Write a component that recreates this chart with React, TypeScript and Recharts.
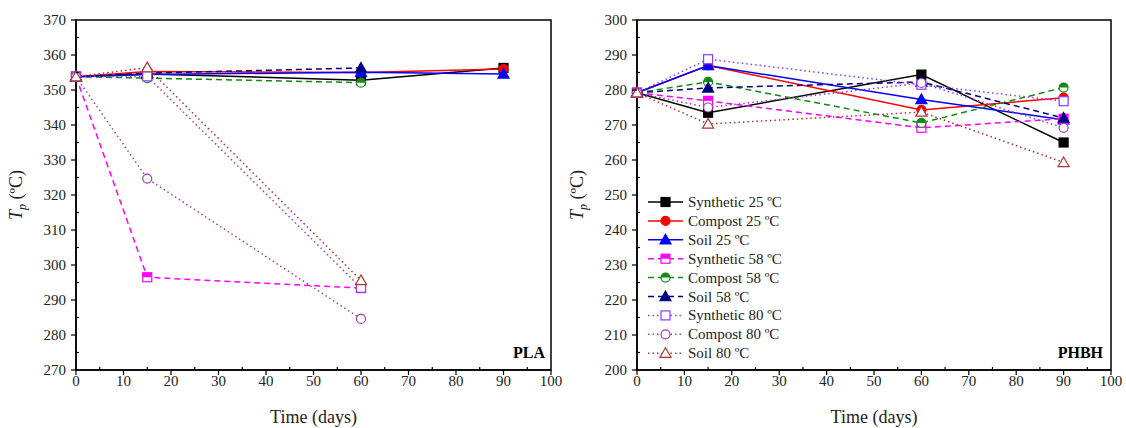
import React from 'react';
import {
  LineChart,
  Line,
  XAxis,
  YAxis,
  ReferenceArea,
  Legend,
  Label
} from 'recharts';

const FONT = '"Liberation Serif", "Times New Roman", serif';

// time points (days)
const DAYS = [0, 15, 60, 90];

// PLA peak temperature (ºC)
const PLA_SYN25 = [353.8, 354.6, 352.8, 356.3];
const PLA_COMP25 = [353.8, 355.3, 355.0, 356.0];
const PLA_SOIL25 = [353.8, 354.4, 355.1, 354.6];
const PLA_SYN58 = [353.8, 296.5, 293.4];
const PLA_COMP58 = [353.8, 353.4, 352.1];
const PLA_SOIL58 = [353.8, 354.8, 356.3];
const PLA_SYN80 = [353.8, 353.9, 293.5];
const PLA_COMP80 = [353.8, 324.7, 284.6];
const PLA_SOIL80 = [353.8, 356.4, 295.6];

// PHBH peak temperature (ºC)
const PHBH_SYN25 = [279.2, 273.5, 284.4, 265.0];
const PHBH_COMP25 = [279.2, 287.0, 274.3, 277.8];
const PHBH_SOIL25 = [279.2, 287.0, 277.3, 271.5];
const PHBH_SYN58 = [279.2, 276.9, 269.2, 271.8];
const PHBH_COMP58 = [279.2, 282.3, 270.6, 280.7];
const PHBH_SOIL58 = [279.2, 280.6, 282.3, 272.0];
const PHBH_SYN80 = [279.2, 288.8, 281.5, 276.8];
const PHBH_COMP80 = [279.2, 275.0, 282.0, 269.2];
const PHBH_SOIL80 = [279.2, 270.3, 273.7, 259.3];

const X_TICKS = [0, 10, 20, 30, 40, 50, 60, 70, 80, 90, 100];
const PLA_Y_TICKS = [270, 280, 290, 300, 310, 320, 330, 340, 350, 360, 370];
const PHBH_Y_TICKS = [200, 210, 220, 230, 240, 250, 260, 270, 280, 290, 300];

const withMinor = (ticks: number[]) => {
  const out: number[] = [];
  ticks.forEach((t, i) => {
    out.push(t);
    if (i < ticks.length - 1) out.push((t + ticks[i + 1]) / 2);
  });
  return out;
};

type Shape = 'square' | 'circle' | 'triangle';
type Fill = 'full' | 'half' | 'none';

const SERIES: { key: string; name: string; color: string; dash?: string; shape: Shape; fill: Fill }[] = [
  { key: 'syn25', name: 'Synthetic 25 ºC', color: '#000000', shape: 'square', fill: 'full' },
  { key: 'comp25', name: 'Compost 25 ºC', color: '#ff0000', shape: 'circle', fill: 'full' },
  { key: 'soil25', name: 'Soil 25 ºC', color: '#0000ff', shape: 'triangle', fill: 'full' },
  { key: 'syn58', name: 'Synthetic 58 ºC', color: '#ff00ff', dash: '6 4', shape: 'square', fill: 'half' },
  { key: 'comp58', name: 'Compost 58 ºC', color: '#108a10', dash: '6 4', shape: 'circle', fill: 'half' },
  { key: 'soil58', name: 'Soil 58 ºC', color: '#000080', dash: '6 4', shape: 'triangle', fill: 'full' },
  { key: 'syn80', name: 'Synthetic 80 ºC', color: '#8a3cff', dash: '1.5 3', shape: 'square', fill: 'none' },
  { key: 'comp80', name: 'Compost 80 ºC', color: '#a03cb4', dash: '1.5 3', shape: 'circle', fill: 'none' },
  { key: 'soil80', name: 'Soil 80 ºC', color: '#b03232', dash: '1.5 3', shape: 'triangle', fill: 'none' }
];

const buildRows = (cols: Record<string, number[]>) =>
  DAYS.map((day, i) => {
    const row: Record<string, number | undefined> = { day };
    Object.keys(cols).forEach((k) => {
      row[k] = cols[k][i];
    });
    return row;
  });

const plaData = buildRows({
  syn25: PLA_SYN25, comp25: PLA_COMP25, soil25: PLA_SOIL25,
  syn58: PLA_SYN58, comp58: PLA_COMP58, soil58: PLA_SOIL58,
  syn80: PLA_SYN80, comp80: PLA_COMP80, soil80: PLA_SOIL80
});

const phbhData = buildRows({
  syn25: PHBH_SYN25, comp25: PHBH_COMP25, soil25: PHBH_SOIL25,
  syn58: PHBH_SYN58, comp58: PHBH_COMP58, soil58: PHBH_SOIL58,
  syn80: PHBH_SYN80, comp80: PHBH_COMP80, soil80: PHBH_SOIL80
});

function Marker({ cx, cy, shape, fill, color }: { cx: number; cy: number; shape: Shape; fill: Fill; color: string }) {
  const r = 4.5;
  const body = fill === 'full' ? color : '#ffffff';
  if (shape === 'square') {
    return (
      <g>
        <rect x={cx - r} y={cy - r} width={2 * r} height={2 * r} fill={body} stroke={color} strokeWidth={1.2} />
        {fill === 'half' && <rect x={cx - r} y={cy - r} width={2 * r} height={r} fill={color} />}
      </g>
    );
  }
  if (shape === 'circle') {
    return (
      <g>
        <circle cx={cx} cy={cy} r={r} fill={body} stroke={color} strokeWidth={1.2} />
        {fill === 'half' && <path d={`M${cx - r},${cy} A${r},${r} 0 0 1 ${cx + r},${cy} Z`} fill={color} />}
      </g>
    );
  }
  const t = 5.5;
  return (
    <polygon
      points={`${cx},${cy - t} ${cx + t},${cy + t * 0.75} ${cx - t},${cy + t * 0.75}`}
      fill={body}
      stroke={color}
      strokeWidth={1.2}
    />
  );
}

function XTick(props: any) {
  const { x, y, payload } = props;
  const v = payload.value;
  if (v % 10 !== 0) return <line x1={x} y1={y} x2={x} y2={y - 3} stroke="#000" strokeWidth={1.2} />;
  return (
    <g>
      <line x1={x} y1={y} x2={x} y2={y + 5} stroke="#000" strokeWidth={1.2} />
      <text x={x} y={y + 16} textAnchor="middle" fontSize={15} fontFamily={FONT} fill="#222">{v}</text>
    </g>
  );
}

function YTick(props: any) {
  const { x, y, payload } = props;
  const v = payload.value;
  if (v % 10 !== 0) return <line x1={x} y1={y} x2={x + 3} y2={y} stroke="#000" strokeWidth={1.2} />;
  return (
    <g>
      <line x1={x - 5} y1={y} x2={x} y2={y} stroke="#000" strokeWidth={1.2} />
      <text x={x - 10} y={y + 5} textAnchor="end" fontSize={15} fontFamily={FONT} fill="#222">{v}</text>
    </g>
  );
}

function XTitle(props: any) {
  const { x, width, y } = props.viewBox;
  return (
    <text x={x + width / 2} y={y + 53} textAnchor="middle" fontSize={18} fontFamily={FONT} fill="#222">
      Time (days)
    </text>
  );
}

function YTitle(props: any) {
  const { x, width, y, height } = props.viewBox;
  const bx = x + width - 54;
  const cy = y + height / 2;
  return (
    <text transform={`rotate(-90 ${bx} ${cy})`} x={bx} y={cy} textAnchor="middle" fontSize={18} fontFamily={FONT} fill="#222">
      <tspan fontStyle="italic">T</tspan>
      <tspan fontStyle="italic" fontSize={12} dy={4}>p</tspan>
      <tspan dy={-4}> (ºC)</tspan>
    </text>
  );
}

function CornerLabel(props: any) {
  const { x, y, width, height } = props.viewBox;
  return (
    <text x={x + width - props.dx} y={y + height - 12} textAnchor="end" fontSize={16} fontWeight="bold" fontFamily={FONT} fill="#000">
      {props.text}
    </text>
  );
}

function LegendBox(props: any) {
  const shown = new Set((props.payload || []).map((p: any) => p.dataKey));
  const entries = SERIES.filter((s) => shown.has(s.key));
  return (
    <svg width={160} height={176} style={{ display: 'block' }}>
      {entries.map((s, i) => {
        const cy = 10 + i * 18.9;
        return (
          <g key={s.key}>
            <line x1={3} y1={cy} x2={38} y2={cy} stroke={s.color} strokeWidth={1.5} strokeDasharray={s.dash} />
            <Marker cx={20.5} cy={cy} shape={s.shape} fill={s.fill} color={s.color} />
            <text x={43} y={cy + 5} fontSize={15} fontFamily={FONT} fill="#222">{s.name}</text>
          </g>
        );
      })}
    </svg>
  );
}

function Panel({ data, yTicks, name, labelDx, margin, width, legend }: any) {
  const yMin = yTicks[0];
  const yMax = yTicks[yTicks.length - 1];
  return (
    <LineChart width={width} height={428} data={data} margin={margin}>
      <XAxis
        dataKey="day"
        type="number"
        domain={[0, 100]}
        ticks={withMinor(X_TICKS)}
        interval={0}
        tick={<XTick />}
        tickLine={false}
        tickSize={0}
        tickMargin={0}
        height={30}
        axisLine={{ stroke: '#000', strokeWidth: 1.5 }}
      >
        <Label content={<XTitle />} />
      </XAxis>
      <YAxis
        type="number"
        domain={[yMin, yMax]}
        ticks={withMinor(yTicks)}
        interval={0}
        tick={<YTick />}
        tickLine={false}
        tickSize={0}
        tickMargin={0}
        width={60}
        allowDataOverflow
        axisLine={{ stroke: '#000', strokeWidth: 1.5 }}
      >
        <Label content={<YTitle />} />
      </YAxis>
      <ReferenceArea
        x1={0}
        x2={100}
        y1={yMin}
        y2={yMax}
        fill="none"
        stroke="#000"
        strokeWidth={1.5}
        label={<CornerLabel text={name} dx={labelDx} />}
      />
      {SERIES.map((s) => (
        <Line
          key={s.key}
          dataKey={s.key}
          name={s.name}
          type="linear"
          stroke={s.color}
          strokeWidth={1.5}
          strokeDasharray={s.dash}
          connectNulls
          activeDot={false}
          isAnimationActive={false}
          dot={(p: any) =>
            p.cx == null || p.cy == null || p.value == null ? (
              <g key={`${s.key}-${p.index}`} />
            ) : (
              <Marker key={`${s.key}-${p.index}`} cx={p.cx} cy={p.cy} shape={s.shape} fill={s.fill} color={s.color} />
            )
          }
        />
      ))}
      {legend && (
        <Legend
          layout="horizontal"
          verticalAlign="middle"
          align="center"
          content={<LegendBox />}
          wrapperStyle={{ position: 'absolute', left: 85, top: 192, width: 160, height: 176 }}
        />
      )}
    </LineChart>
  );
}

export default function App() {
  return (
    <div style={{ position: 'absolute', left: 0, top: 0, width: 1126, height: 428, background: '#fff', fontFamily: FONT }}>
      <div style={{ position: 'absolute', left: 0, top: 0 }}>
        <Panel
          data={plaData}
          yTicks={PLA_Y_TICKS}
          name="PLA"
          labelDx={6}
          width={580}
          margin={{ top: 20, right: 29, bottom: 28, left: 16 }}
        />
      </div>
      <div style={{ position: 'absolute', left: 560, top: 0 }}>
        <Panel
          data={phbhData}
          yTicks={PHBH_Y_TICKS}
          name="PHBH"
          labelDx={8}
          width={566}
          margin={{ top: 20, right: 15, bottom: 28, left: 17 }}
          legend
        />
      </div>
    </div>
  );
}
